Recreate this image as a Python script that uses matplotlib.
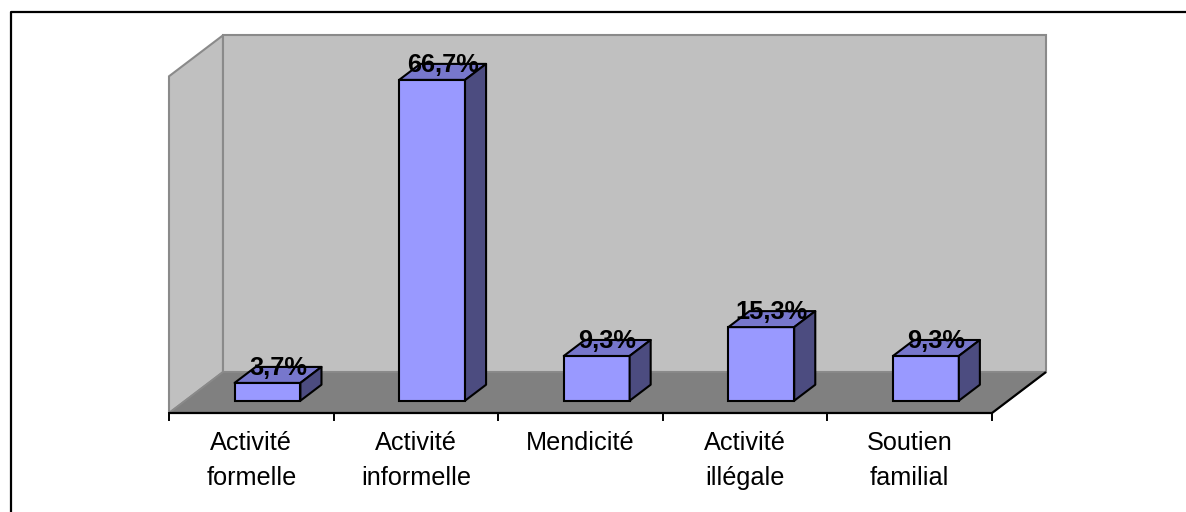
import matplotlib
matplotlib.use("Agg")
import matplotlib.pyplot as plt
from matplotlib.patches import Polygon
from matplotlib.lines import Line2D

categories = ["Activité\nformelle", "Activité\ninformelle", "Mendicité",
              "Activité\nillégale", "Soutien\nfamilial"]
values = [3.7, 66.7, 9.3, 15.3, 9.3]
labels = ["3,7%", "66,7%", "9,3%", "15,3%", "9,3%"]
y_max = 70

# 3D look: depth offset of the floor in data units
DX, DY = 0.328, 8.52
BAR_W = 0.40
D_FRONT, D_BACK = 0.30, 0.69

FRONT, TOP, SIDE = "#9999ff", "#7777cc", "#4c4c80"
WALL, FLOOR, WALL_EDGE = "#c0c0c0", "#808080", "#8a8a8a"

plt.rcParams["font.family"] = ["Liberation Sans", "DejaVu Sans"]

fig = plt.figure(figsize=(11.86, 5.12), dpi=100)
ax = fig.add_axes([0, 0, 1, 1])
ax.set_xlim(-169 / 164.6, (1186 - 169) / 164.6)
ax.set_ylim(-99 / 4.81, (512 - 99) / 4.81)
ax.set_axis_off()

n = len(values)
# walls and floor
ax.add_patch(Polygon([(0, 0), (0, y_max), (DX, y_max + DY), (DX, DY)],
                     fc=WALL, ec=WALL_EDGE, lw=1.5, zorder=1))
ax.add_patch(Polygon([(DX, DY), (n + DX, DY), (n + DX, y_max + DY), (DX, y_max + DY)],
                     fc=WALL, ec=WALL_EDGE, lw=1.5, zorder=1))
ax.add_patch(Polygon([(0, 0), (n, 0), (n + DX, DY), (DX, DY)],
                     fc=FLOOR, ec=WALL_EDGE, lw=1.2, zorder=1.5))
ax.plot([0, n, n + DX], [0, 0, DY], color="black", lw=1.6, zorder=2,
        solid_capstyle="butt")
for i in range(n + 1):
    ax.plot([i, i], [0, -1.4], color="black", lw=1.4, zorder=2)

# bars
xs = [i + 0.5 + D_FRONT * DX for i in range(n)]
y0 = D_FRONT * DY
bars = ax.bar(xs, values, width=BAR_W, bottom=y0, color=FRONT,
              edgecolor="black", linewidth=1.5, zorder=3)
ddx = (D_BACK - D_FRONT) * DX
ddy = (D_BACK - D_FRONT) * DY
for b, v in zip(bars, values):
    l, r = b.get_x(), b.get_x() + b.get_width()
    top = y0 + v
    ax.add_patch(Polygon([(l, top), (r, top), (r + ddx, top + ddy), (l + ddx, top + ddy)],
                         fc=TOP, ec="black", lw=1.5, zorder=3, joinstyle="round"))
    ax.add_patch(Polygon([(r, y0), (r + ddx, y0 + ddy), (r + ddx, top + ddy), (r, top)],
                         fc=SIDE, ec="black", lw=1.5, zorder=3, joinstyle="round"))

# value labels at mid-depth of the bar tops
mid = (D_FRONT + D_BACK) / 2
for i, (v, t) in enumerate(zip(values, labels)):
    ax.text(i + 0.5 + mid * DX, v + mid * DY, t, ha="center",
            va="baseline", fontsize=18.3, fontweight="bold", zorder=5)

# category labels
for i, c in enumerate(categories):
    ax.text(i + 0.5, -3.8, c, ha="center", va="top", fontsize=18.2,
            linespacing=1.55, zorder=5)

# chart frame (cropped: only top and left edges visible)
fig.add_artist(Line2D([10.5 / 1186, 10.5 / 1186, 1], [0, 500.5 / 512, 500.5 / 512],
                      transform=fig.transFigure, color="black", lw=1.6))

fig.savefig("out.png", dpi=100)
